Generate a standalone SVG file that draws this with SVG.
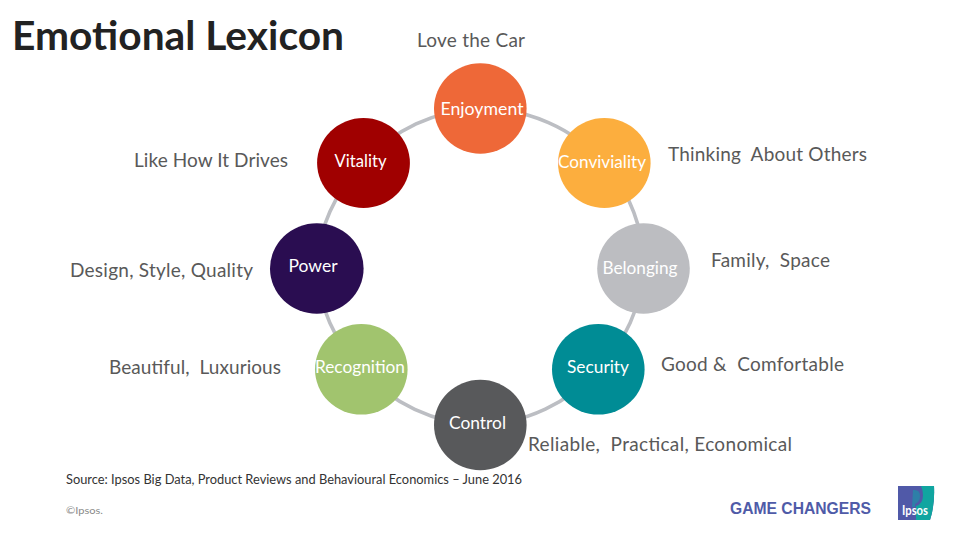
<svg xmlns="http://www.w3.org/2000/svg" width="960" height="540" viewBox="0 0 960 540">
<style>
text{font-family:"Lato","Open Sans","Liberation Sans",sans-serif}
.n{fill:#fff;font-size:17px;text-anchor:middle}
.l{fill:#595959;font-size:19px;white-space:pre}
.c{fill:none;stroke:#bcbec3;stroke-width:3.6}
</style>
<rect width="960" height="540" fill="#fff"/>
<text id="title" x="12" y="50" font-size="39.5" font-weight="700" fill="#222" textLength="332" lengthAdjust="spacingAndGlyphs">Emotional Lexicon</text>
<g id="connectors">
<path class="c" d="M363.500 163A163 158.500 0 0 1 480.300 108.500"/>
<path class="c" d="M480.300 108.500A163 158.500 0 0 1 604.300 163"/>
<path class="c" d="M604.300 163A163 158.500 0 0 1 643.500 268.500"/>
<path class="c" d="M643.500 268.500A163 158.500 0 0 1 598.300 369.300"/>
<path class="c" d="M598.300 369.300A163 158.500 0 0 1 480.300 425"/>
<path class="c" d="M480.300 425A163 158.500 0 0 1 361.300 369.300"/>
<path class="c" d="M361.300 369.300A163 158.500 0 0 1 316.800 268.500"/>
<path class="c" d="M316.800 268.500A163 158.500 0 0 1 363.500 163"/>
</g>
<g id="enjoyment"><ellipse cx="480.300" cy="108.500" rx="46.300" ry="45.200" fill="#ee6838"/><text class="n" x="482" y="115" textLength="83" lengthAdjust="spacingAndGlyphs">Enjoyment</text></g>
<g id="conviviality"><ellipse cx="604.300" cy="163" rx="46.300" ry="45" fill="#fcae3e"/><text class="n" x="602" y="168" textLength="88" lengthAdjust="spacingAndGlyphs">Conviviality</text></g>
<g id="belonging"><ellipse cx="643.500" cy="268.500" rx="46.300" ry="45.200" fill="#bcbdc1"/><text class="n" x="640" y="274" textLength="75" lengthAdjust="spacingAndGlyphs">Belonging</text></g>
<g id="security"><ellipse cx="598.300" cy="369.300" rx="46.300" ry="45.300" fill="#008c95"/><text class="n" x="598" y="373" textLength="62" lengthAdjust="spacingAndGlyphs">Security</text></g>
<g id="control"><ellipse cx="480.300" cy="425" rx="46.300" ry="45.200" fill="#58595b"/><text class="n" x="477.500" y="429" textLength="57" lengthAdjust="spacingAndGlyphs">Control</text></g>
<g id="recognition"><ellipse cx="361.300" cy="369.300" rx="46.300" ry="45.300" fill="#a1c46e"/><text class="n" x="360" y="373" textLength="90" lengthAdjust="spacingAndGlyphs">Recognition</text></g>
<g id="power"><ellipse cx="316.800" cy="268.500" rx="46.800" ry="45.200" fill="#2a0d51"/><text class="n" x="313" y="272" textLength="49" lengthAdjust="spacingAndGlyphs">Power</text></g>
<g id="vitality"><ellipse cx="363.500" cy="163" rx="46.400" ry="45" fill="#a00000"/><text class="n" x="360.500" y="167" textLength="52" lengthAdjust="spacingAndGlyphs">Vitality</text></g>
<text class="l" x="417" y="47" textLength="108" lengthAdjust="spacing">Love the Car</text>
<text class="l" x="668" y="161" textLength="199" lengthAdjust="spacing">Thinking  About Others</text>
<text class="l" x="711" y="267" textLength="119" lengthAdjust="spacing">Family,  Space</text>
<text class="l" x="661" y="371" textLength="183" lengthAdjust="spacing">Good &amp;  Comfortable</text>
<text class="l" x="528" y="451" textLength="264" lengthAdjust="spacing">Reliable,  Practical, Economical</text>
<text class="l" x="109" y="374" textLength="172" lengthAdjust="spacing">Beautiful,  Luxurious</text>
<text class="l" x="70" y="277" textLength="183" lengthAdjust="spacing">Design, Style, Quality</text>
<text class="l" x="134" y="167" textLength="154" lengthAdjust="spacing">Like How It Drives</text>
<text x="66" y="484" font-size="13" fill="#333" textLength="456" lengthAdjust="spacingAndGlyphs">Source: Ipsos Big Data, Product Reviews and Behavioural Economics – June 2016</text>
<text x="66" y="514" font-size="10" fill="#8a8a8a" textLength="37" lengthAdjust="spacingAndGlyphs">©Ipsos.</text>
<text x="730" y="514" font-size="16.500" font-weight="700" fill="#4f5ba8" style="font-family:'Liberation Sans',sans-serif" textLength="141" lengthAdjust="spacingAndGlyphs">GAME CHANGERS</text>
<path d="M898 486H934Q935 505 930 520H898Z" fill="#5059a8"/>
<path d="M921 486H934Q935 505 930 520H916V506Q923 504 923 495Q923 490 921 486Z" fill="#10a5a0"/>
<path d="M913 490Q920 489 920 496Q920 502 915 504V507H912Z" fill="#2e7fa8"/>
<text x="902" y="515" font-size="13" font-weight="700" fill="#fff" textLength="26" lengthAdjust="spacingAndGlyphs">Ipsos</text>
</svg>
